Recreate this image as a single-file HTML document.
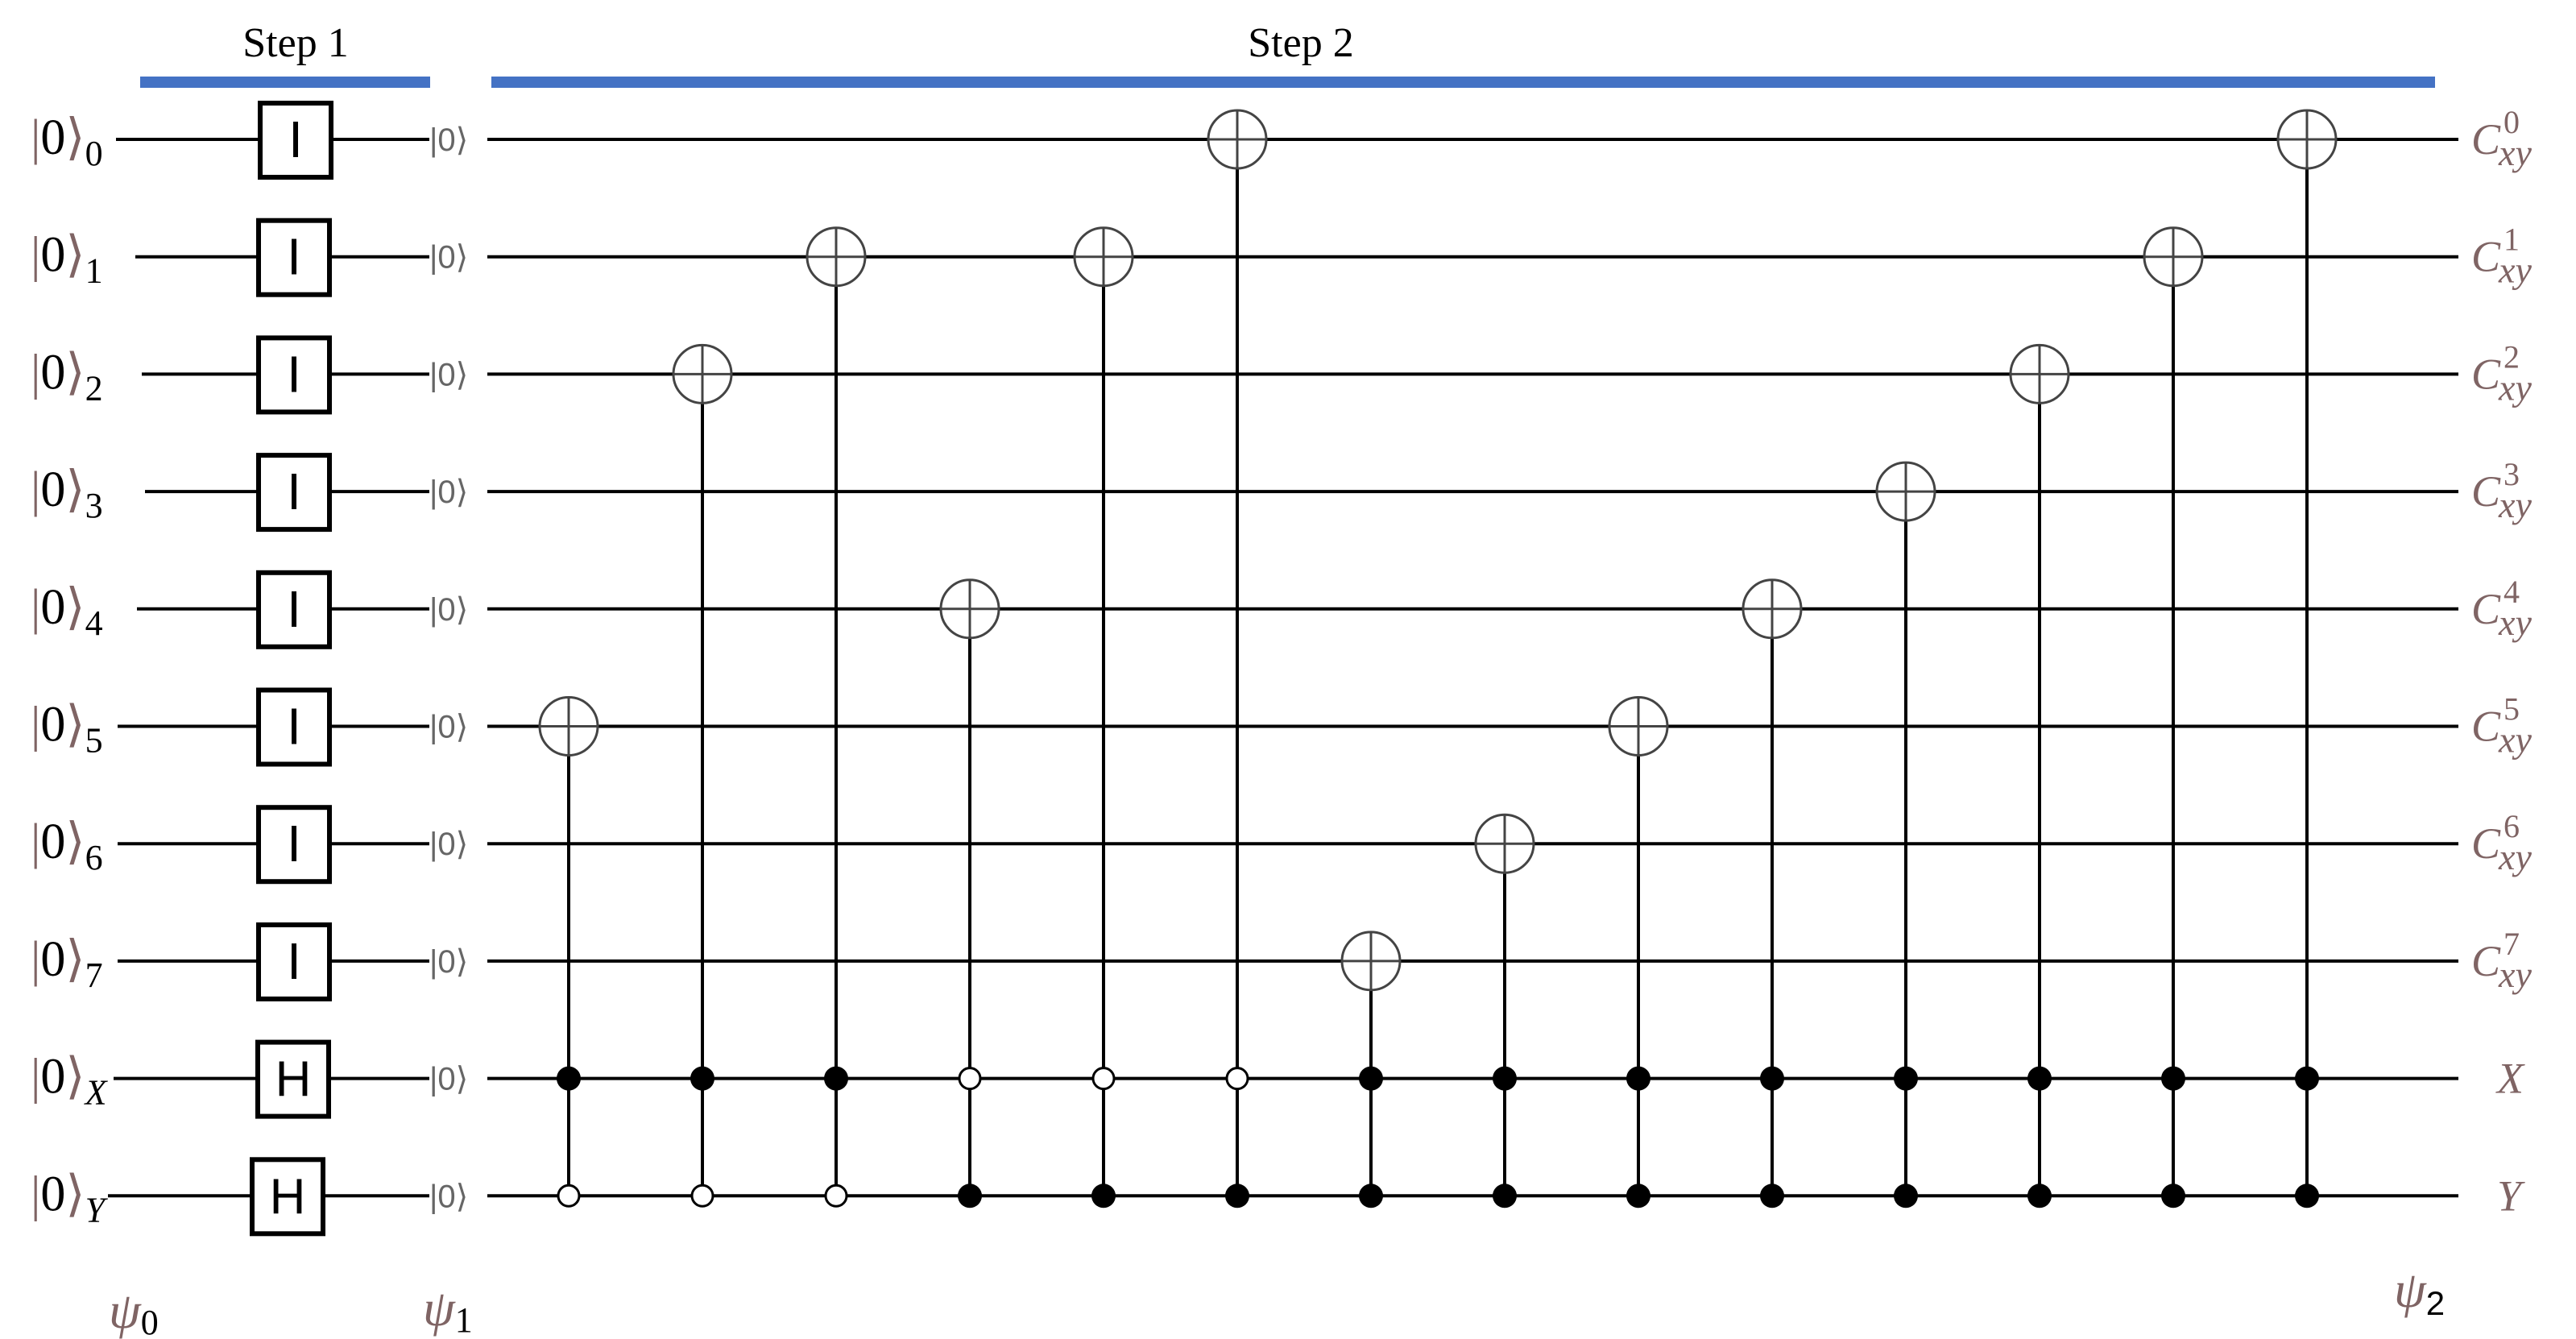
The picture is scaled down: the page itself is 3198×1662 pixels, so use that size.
<!DOCTYPE html>
<html><head><meta charset="utf-8"><style>
html,body{margin:0;padding:0;background:#fff;}
svg{display:block;}
.lab{font-family:"Liberation Serif",serif;}
</style></head><body>
<svg id="c" width="3198" height="1662" viewBox="0 0 3198 1662" xmlns="http://www.w3.org/2000/svg">
<rect x="174" y="95" width="360" height="14" fill="#4472c4"/>
<rect x="610" y="95" width="2413" height="14" fill="#4472c4"/>
<text x="367" y="70" font-size="52" text-anchor="middle" class="lab">Step 1</text>
<text x="1615" y="70" font-size="52" text-anchor="middle" class="lab">Step 2</text>
<g id="g"></g>
<text x="135" y="1648" font-size="64" fill="#7f6464" font-style="italic" class="lab">ψ<tspan font-size="44" font-style="normal" fill="#000" dy="8">0</tspan></text>
<text x="525" y="1645" font-size="64" fill="#7f6464" font-style="italic" class="lab">ψ<tspan font-size="44" font-style="normal" fill="#000" dy="8">1</tspan></text>
<text x="2972" y="1622" font-size="64" fill="#7f6464" font-style="italic" class="lab">ψ<tspan font-size="42" font-style="normal" fill="#000" dy="10" font-family="Liberation Sans">2</tspan></text>
</svg>
<script>
const qubitNames=["0","1","2","3","4","5","6","7","X","Y"];
const gateNames=["I","I","I","I","I","I","I","I","H","H"];
const outNames=["0","1","2","3","4","5","6","7","X","Y"];
const targets=[5,2,1,4,1,0,7,6,5,4,3,2,1,0];
const ctrlX=[1,1,1,0,0,0,1,1,1,1,1,1,1,1];
const ctrlY=[0,0,0,1,1,1,1,1,1,1,1,1,1,1];
const NS="http://www.w3.org/2000/svg";
const g=document.getElementById('g');
const wireY=i=>173+i*145.7;
const colX=j=>706+j*166;
function mk(t,a,p){const e=document.createElementNS(NS,t);for(const k in a)e.setAttribute(k,a[k]);(p||g).appendChild(e);return e;}
const wireStart=[144,168,176,180,170,146,146,146,141,134];
const boxX=[323,321,321,321,321,321,321,321,320,313];
qubitNames.forEach((n,i)=>{
  const y=wireY(i);
  let l=mk('line',{x1:wireStart[i],y1:y,x2:533,y2:y,stroke:'#000','stroke-width':4});
  
  
  let t=mk('text',{x:38,y:y+18,'font-size':62,'class':'lab'});
  t.innerHTML='<tspan fill="#7f6464">|</tspan>0<tspan fill="#7f6464">⟩</tspan><tspan font-size="44" dy="14"'+(i>=8?' font-style="italic"':'')+'>'+n+'</tspan>';
  
  
  let b=mk('rect',{x:boxX[i],y:y-45,width:88,height:92,fill:'#fff',stroke:'#000','stroke-width':6});
  
  
  let gt=mk('text',{x:boxX[i]+44,y:y+22,'font-size':gateNames[i]=='H'?62:64,'text-anchor':'middle','font-family':'Liberation Sans, sans-serif'});
  gt.textContent=gateNames[i];
  
  
  let s=mk('text',{x:533,y:y+14,'font-size':40,fill:'#666','font-family':'Liberation Sans, sans-serif'});
  s.textContent='|0⟩';
  
  
  let w=mk('line',{x1:605,y1:y,x2:3052,y2:y,stroke:'#000','stroke-width':4});
  
  
  let o=mk('text',{x:i>=8?3100:3068,y:y+18,'font-size':54,'font-style':'italic',fill:'#7f6464','class':'lab'});
  o.innerHTML=i>=8?outNames[i]:'C<tspan font-size="40" font-style="normal" dx="4" dy="-26">'+outNames[i]+'</tspan><tspan font-size="46" dx="-26" dy="40">xy</tspan>';
  
  
});
targets.forEach((t,j)=>{
  const x=colX(j),yt=wireY(t),yb=wireY(9),r=36;
  let v=mk('line',{x1:x,y1:yt,x2:x,y2:yb,stroke:'#000','stroke-width':4});
  
  
  let c=mk('circle',{cx:x,cy:yt,r:r,fill:'#fff',stroke:'#444','stroke-width':3});
  
  
  mk('line',{x1:x-r,y1:yt,x2:x+r,y2:yt,stroke:'#444','stroke-width':3});
  mk('line',{x1:x,y1:yt-r,x2:x,y2:yt+r,stroke:'#444','stroke-width':3});
  [[8,ctrlX[j]],[9,ctrlY[j]]].forEach(([q,f])=>{
    let d=mk('circle',{cx:x,cy:wireY(q),r:f?15:13,fill:f?'#000':'#fff',stroke:'#000','stroke-width':f?0:3});
    
    
  });
});
</script>
</body></html>
